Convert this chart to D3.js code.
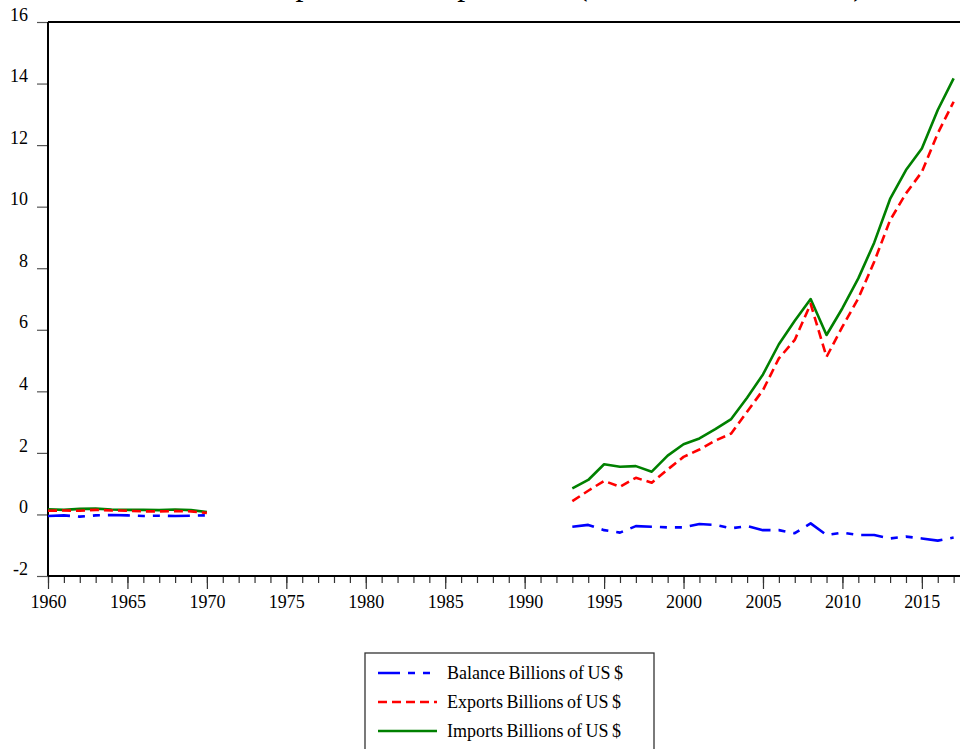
<!DOCTYPE html>
<html>
<head>
<meta charset="utf-8">
<script src="https://cdn.jsdelivr.net/npm/d3@7"></script>
<style>
  html, body { margin: 0; padding: 0; background: #fff; }
  svg { display: block; }
  text { font-family: "Liberation Serif", "DejaVu Serif", serif; fill: #000; }
</style>
</head>
<body>
<svg id="chart" width="960" height="749"></svg>
<script>
// ---- data ----
const yearsEarly = [1960,1961,1962,1963,1964,1965,1966,1967,1968,1969,1970];
const yearsLate = [1993,1994,1995,1996,1997,1998,1999,2000,2001,2002,2003,2004,2005,
                   2006,2007,2008,2009,2010,2011,2012,2013,2014,2015,2016,2017];

const balanceEarly = [-0.05,-0.03,-0.07,-0.03,-0.02,-0.03,-0.05,-0.04,-0.05,-0.04,-0.03];
const exportsEarly = [0.12,0.13,0.12,0.15,0.13,0.12,0.10,0.10,0.11,0.10,0.05];
const importsEarly = [0.17,0.15,0.18,0.19,0.16,0.15,0.15,0.14,0.16,0.14,0.08];

const balanceLate = [-0.40,-0.34,-0.51,-0.59,-0.38,-0.40,-0.42,-0.42,-0.31,-0.34,-0.45,-0.38,-0.51,
                     -0.51,-0.61,-0.29,-0.67,-0.59,-0.67,-0.67,-0.78,-0.72,-0.78,-0.85,-0.75];
const exportsLate = [0.43,0.77,1.09,0.90,1.19,1.03,1.46,1.87,2.11,2.40,2.63,3.34,4.04,
                     5.07,5.67,6.84,5.12,6.10,7.02,8.21,9.56,10.43,11.13,12.38,13.41];
const importsLate = [0.85,1.12,1.63,1.55,1.57,1.39,1.91,2.28,2.47,2.77,3.10,3.79,4.55,
                     5.53,6.29,7.00,5.83,6.70,7.67,8.83,10.25,11.19,11.89,13.14,14.17];

const yTicks = [-2,0,2,4,6,8,10,12,14,16];
const xMajorTicks = [1960,1965,1970,1975,1980,1985,1990,1995,2000,2005,2010,2015];
const seriesNames = ["Balance Billions of US $","Exports Billions of US $","Imports Billions of US $"];
const seriesColors = ["#0000ff","#ff0000","#008000"];
const seriesDash = ["22,8,7,8,7,8","9,5",null];
const titleMain = "Exports and Imports";
const titleUnit = "(Billions of US $)";

// ---- layout ----
const svg = d3.select("#chart");
const mLeft = 48, mTop = 22, mRight = 960, mBottom = 576;

const x = d3.scaleLinear().domain([1960, 2017.4]).range([mLeft, mRight]);
const y = d3.scaleLinear().domain([-2, 16]).range([mBottom, mTop]);

// title (clipped at top, as in reference)
const title = svg.append("text").attr("y", -5).attr("font-size", 32);
title.append("tspan").attr("x", 260).text(titleMain);
title.append("tspan").attr("x", 577).attr("textLength", 287)
  .attr("lengthAdjust", "spacing").text(titleUnit);

// y axis
const yAxis = d3.axisLeft(y).tickValues(yTicks).tickSize(11).tickPadding(9)
  .tickFormat(d => String(d));
const gy = svg.append("g").attr("transform", `translate(${mLeft},0)`).call(yAxis);
gy.select(".domain").remove();
gy.selectAll(".tick line").attr("stroke", "#555").attr("stroke-width", 1.2);
gy.selectAll(".tick text").attr("font-size", 18).attr("dy", "-0.1em")
  .attr("font-family", "Liberation Serif, serif");

// x axis minor ticks
const minorYears = d3.range(1960, 2018);
const xMinor = d3.axisBottom(x).tickValues(minorYears).tickSize(7).tickFormat("");
const gxm = svg.append("g").attr("transform", `translate(0,${mBottom})`).call(xMinor);
gxm.select(".domain").remove();
gxm.selectAll(".tick line").attr("stroke", "#333").attr("stroke-width", 1.2);

// x axis major ticks
const xAxis = d3.axisBottom(x).tickValues(xMajorTicks).tickSize(13).tickPadding(6)
  .tickFormat(d => String(d));
const gx = svg.append("g").attr("transform", `translate(0,${mBottom})`).call(xAxis);
gx.select(".domain").remove();
gx.selectAll(".tick line").attr("stroke", "#333").attr("stroke-width", 1.2);
gx.selectAll(".tick text").attr("font-size", 18)
  .attr("font-family", "Liberation Serif, serif");

// frame lines
svg.append("line").attr("x1", mLeft).attr("x2", mLeft).attr("y1", mTop).attr("y2", mBottom)
  .attr("stroke", "#000").attr("stroke-width", 2);
svg.append("line").attr("x1", mLeft).attr("x2", mRight).attr("y1", mTop).attr("y2", mTop)
  .attr("stroke", "#000").attr("stroke-width", 2);
svg.append("line").attr("x1", mLeft).attr("x2", mRight).attr("y1", mBottom).attr("y2", mBottom)
  .attr("stroke", "#000").attr("stroke-width", 2);

// series
const line = d3.line().x(d => x(d[0])).y(d => y(d[1]));
const groups = [
  [d3.zip(yearsEarly, balanceEarly), d3.zip(yearsLate, balanceLate)],
  [d3.zip(yearsEarly, exportsEarly), d3.zip(yearsLate, exportsLate)],
  [d3.zip(yearsEarly, importsEarly), d3.zip(yearsLate, importsLate)]
];
[2,1,0].forEach(i => {
  groups[i].forEach(seg => {
    svg.append("path").datum(seg)
      .attr("d", line)
      .attr("fill", "none")
      .attr("stroke", seriesColors[i])
      .attr("stroke-width", 2.6)
      .attr("stroke-dasharray", seriesDash[i])
      .attr("stroke-linejoin", "round");
  });
});

// legend
const lg = svg.append("g");
lg.append("rect").attr("x", 365).attr("y", 653).attr("width", 289).attr("height", 110)
  .attr("fill", "#fff").attr("stroke", "#333").attr("stroke-width", 1.3);
seriesNames.forEach((name, i) => {
  const ly = 673 + i * 29;
  lg.append("line").attr("x1", 378).attr("x2", 437).attr("y1", ly).attr("y2", ly)
    .attr("stroke", seriesColors[i]).attr("stroke-width", 2.6)
    .attr("stroke-dasharray", seriesDash[i]);
  lg.append("text").attr("x", 447).attr("y", ly + 1).attr("dy", "0.3em")
    .attr("font-size", 18).attr("word-spacing", "-1px").text(name);
});
</script>
</body>
</html>
